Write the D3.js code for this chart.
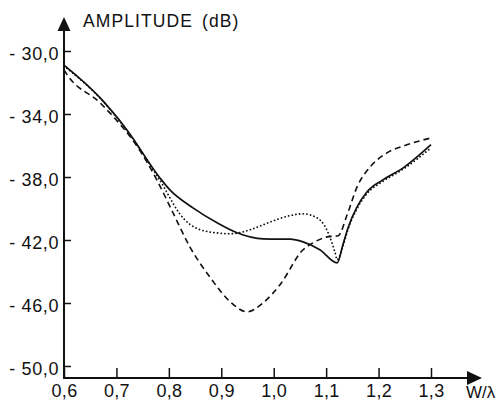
<!DOCTYPE html>
<html>
<head>
<meta charset="utf-8">
<script src="https://cdn.jsdelivr.net/npm/d3@7"></script>
<style>
  body { margin: 0; background: #fff; }
  svg { display: block; }
  text { font-family: "Liberation Sans", Arial, sans-serif; fill: #111; }
</style>
</head>
<body>
<script>
// values (W/lambda, dB)
var xTicks = [0.6, 0.7, 0.8, 0.9, 1.0, 1.1, 1.2, 1.3];
var xTickLabels = ["0,6", "0,7", "0,8", "0,9", "1,0", "1,1", "1,2", "1,3"];
var yTicks = [-30, -34, -38, -42, -46, -50];
var yTickLabels = ["- 30,0", "- 34,0", "- 38,0", "- 42,0", "- 46,0", "- 50,0"];

var solidW = [0.6, 0.669, 0.72, 0.783, 0.802, 0.846, 0.892, 0.93, 0.98, 1.012, 1.031, 1.056, 1.088, 1.121, 1.132, 1.142, 1.159, 1.178, 1.208, 1.247, 1.3];
var solidDb = [-30.9, -32.98, -35.01, -38.06, -38.82, -39.96, -40.91, -41.54, -41.93, -41.95, -41.95, -42.12, -42.62, -43.45, -42.3, -41.2, -39.9, -38.94, -38.18, -37.42, -35.95];

var dashW = [0.6, 0.608, 0.669, 0.758, 0.777, 0.808, 0.84, 0.878, 0.917, 0.949, 0.98, 1.012, 1.056, 1.075, 1.102, 1.123, 1.14, 1.159, 1.184, 1.216, 1.254, 1.3];
var dashDb = [-31.2, -31.6, -33.3, -37.04, -38.18, -40.28, -42.43, -44.34, -45.92, -46.56, -45.98, -44.84, -42.62, -42.18, -41.8, -41.73, -40.4, -38.63, -37.36, -36.47, -35.96, -35.52];

var dotW = [0.6, 0.669, 0.72, 0.775, 0.79, 0.8, 0.82, 0.84, 0.88, 0.92, 0.955, 0.99, 1.025, 1.056, 1.083, 1.098, 1.107, 1.117, 1.121, 1.132, 1.142, 1.159, 1.178, 1.208, 1.247, 1.3];
var dotDb = [-30.95, -33.0, -35.05, -37.8, -38.6, -39.2, -40.3, -41.0, -41.5, -41.6, -41.35, -40.9, -40.5, -40.34, -40.6, -41.15, -41.8, -42.8, -43.25, -42.4, -41.3, -40.0, -39.05, -38.28, -37.5, -36.15];

var width = 497, height = 411;
var svg = d3.select("body").append("svg")
    .attr("width", width)
    .attr("height", height);

var x = d3.scaleLinear().domain([0.6, 1.3]).range([64, 431]);
var y = d3.scaleLinear().domain([-50, -30]).range([366, 51]);
var axisY = y(-50.76);

// x axis
var gx = svg.append("g")
    .attr("transform", "translate(0," + axisY + ")")
    .call(d3.axisBottom(x)
        .tickValues(xTicks)
        .tickFormat(function(d, i) { return xTickLabels[i]; })
        .tickSizeInner(-10)
        .tickSizeOuter(0)
        .tickPadding(6));
gx.select(".domain").remove();
gx.selectAll("line").attr("stroke", "#111").attr("stroke-width", 1.5);
gx.selectAll("text").style("font-size", "18px").style("letter-spacing", "0.3px");

// y axis
var gy = svg.append("g")
    .attr("transform", "translate(" + x(0.6) + ",0)")
    .call(d3.axisLeft(y)
        .tickValues(yTicks)
        .tickFormat(function(d, i) { return yTickLabels[i]; })
        .tickSizeInner(-7)
        .tickSizeOuter(0)
        .tickPadding(5));
gy.select(".domain").remove();
gy.selectAll("line").attr("stroke", "#111").attr("stroke-width", 1.5);
gy.selectAll("text").style("font-size", "18px").style("letter-spacing", "0.6px")
    .attr("dy", "0.45em");

// axis lines with arrows
var x0 = x(0.6);
svg.append("line")
    .attr("x1", x0).attr("y1", axisY + 1)
    .attr("x2", x0).attr("y2", 28)
    .attr("stroke", "#111").attr("stroke-width", 2);
svg.append("line")
    .attr("x1", x0 - 1).attr("y1", axisY)
    .attr("x2", 470).attr("y2", axisY)
    .attr("stroke", "#111").attr("stroke-width", 2);
svg.append("path")
    .attr("d", "M" + x0 + ",17L" + (x0 - 6.5) + ",31L" + (x0 + 6.5) + ",31Z")
    .attr("fill", "#111");
svg.append("path")
    .attr("d", "M482," + axisY + "L467," + (axisY - 7) + "L467," + (axisY + 7) + "Z")
    .attr("fill", "#111");

// axis titles
var title = svg.append("text")
    .attr("x", 83).attr("y", 27)
    .style("font-size", "17.5px")
    .style("letter-spacing", "1.1px");
title.append("tspan").text("AMPLITUDE");
title.append("tspan").attr("dx", 9).text("(dB)");

svg.append("text")
    .attr("x", 466).attr("y", 398)
    .style("font-size", "17px")
    .text("W/\u03bb");

// curves
var line = d3.line()
    .x(function(d) { return x(d[0]); })
    .y(function(d) { return y(d[1]); })
    .curve(d3.curveMonotoneX);

function pairs(ws, ds) {
    return ws.map(function(w, i) { return [w, ds[i]]; });
}

svg.append("path")
    .datum(pairs(dotW, dotDb))
    .attr("d", line)
    .attr("fill", "none")
    .attr("stroke", "#111")
    .attr("stroke-width", 1.8)
    .attr("stroke-linecap", "round")
    .attr("stroke-dasharray", "0.1,3.6");

svg.append("path")
    .datum(pairs(dashW, dashDb))
    .attr("d", line)
    .attr("fill", "none")
    .attr("stroke", "#111")
    .attr("stroke-width", 1.6)
    .attr("stroke-dasharray", "6,4");

svg.append("path")
    .datum(pairs(solidW, solidDb))
    .attr("d", line)
    .attr("fill", "none")
    .attr("stroke", "#111")
    .attr("stroke-width", 1.7);
</script>
</body>
</html>
